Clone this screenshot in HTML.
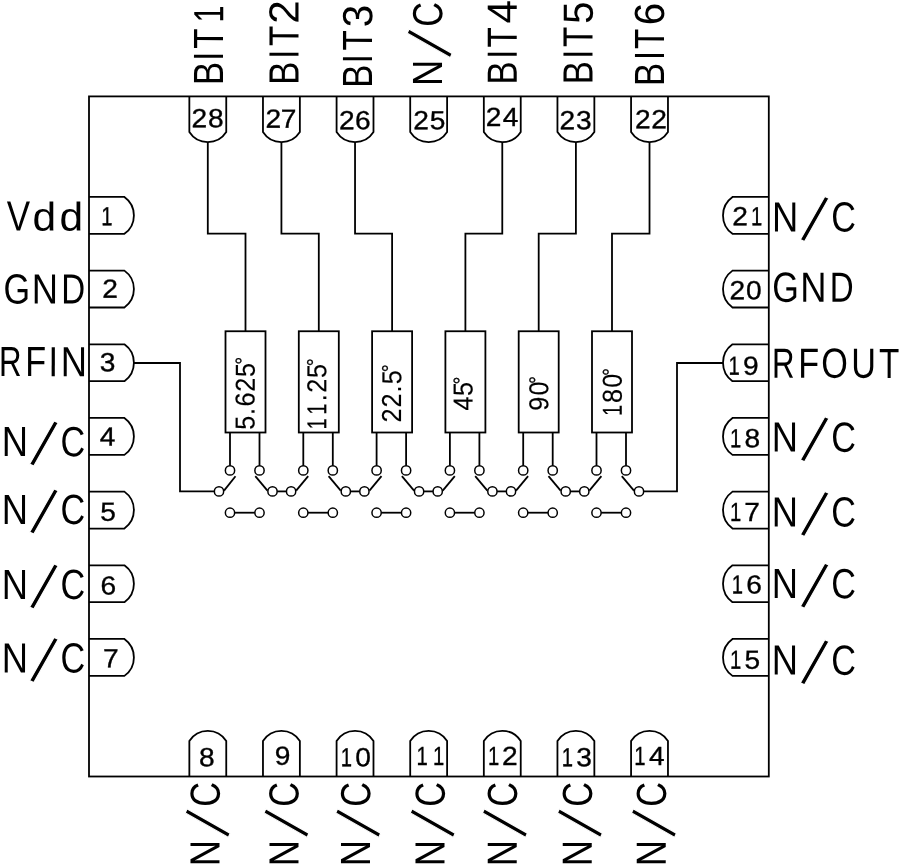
<!DOCTYPE html>
<html lang="en">
<head>
<meta charset="utf-8">
<title>Functional Diagram</title>
<style>
html,body{margin:0;padding:0;background:#fff;}
body{width:900px;height:865px;overflow:hidden;}
svg{display:block;filter:grayscale(1);}
.g path,.g rect,.g circle{fill:none;stroke:#000;stroke-linejoin:miter;stroke-linecap:butt;}
.t text{font-family:"Liberation Sans",Arial,Helvetica,sans-serif;fill:#000;stroke:#fff;}
.t .k{stroke:#000;}
.t .w{stroke:#fff;}
</style>
</head>
<body>
<svg width="900" height="865" viewBox="0 0 900 865">
<rect width="900" height="865" fill="#fff"/>
<g class="t">
<text transform="translate(18.5 230.40) rotate(0.05) scale(0.81 1)" font-size="42.2" stroke-width="0"><tspan x="-14.39" y="0.00" textLength="28.77" lengthAdjust="spacingAndGlyphs">V</tspan><tspan x="17.18" y="0.00" textLength="29.16" lengthAdjust="spacingAndGlyphs" font-size="40.2">d</tspan><tspan x="50.58" y="0.00" textLength="29.16" lengthAdjust="spacingAndGlyphs" font-size="40.2">d</tspan></text>
<text transform="translate(16.2 303.40) rotate(0.05) scale(0.81 1)" font-size="42.2" stroke-width="0"><tspan x="-15.84" y="0.00">G</tspan><tspan x="19.16" y="0.00" textLength="32.40" lengthAdjust="spacingAndGlyphs">N</tspan><tspan x="55.60" y="0.00" textLength="29.50" lengthAdjust="spacingAndGlyphs">D</tspan></text>
<text transform="translate(10.8 376.10) rotate(0.05) scale(0.81 1)" font-size="42.2" stroke-width="0"><tspan x="-14.51" y="0.00" textLength="27.78" lengthAdjust="spacingAndGlyphs">R</tspan><tspan x="17.95" y="0.00">F</tspan><tspan x="46.42" y="0.00">I</tspan><tspan x="61.57" y="0.00" textLength="32.40" lengthAdjust="spacingAndGlyphs">N</tspan></text>
<text transform="translate(14.8 456.10) rotate(0.05) scale(0.81 1)" font-size="42.2" stroke-width="0"><tspan x="-16.21" y="0.00" textLength="32.40" lengthAdjust="spacingAndGlyphs">N</tspan><tspan x="18.52" y="7.50" font-size="69.3" rotate="19.7" stroke-width="1.2">/</tspan><tspan x="56.35" y="0.00">C</tspan></text>
<text transform="translate(14.8 523.90) rotate(0.05) scale(0.81 1)" font-size="42.2" stroke-width="0"><tspan x="-16.21" y="0.00" textLength="32.40" lengthAdjust="spacingAndGlyphs">N</tspan><tspan x="18.52" y="7.50" font-size="69.3" rotate="19.7" stroke-width="1.2">/</tspan><tspan x="56.35" y="0.00">C</tspan></text>
<text transform="translate(14.8 598.90) rotate(0.05) scale(0.81 1)" font-size="42.2" stroke-width="0"><tspan x="-16.21" y="0.00" textLength="32.40" lengthAdjust="spacingAndGlyphs">N</tspan><tspan x="18.52" y="7.50" font-size="69.3" rotate="19.7" stroke-width="1.2">/</tspan><tspan x="56.35" y="0.00">C</tspan></text>
<text transform="translate(14.8 672.40) rotate(0.05) scale(0.81 1)" font-size="42.2" stroke-width="0"><tspan x="-16.21" y="0.00" textLength="32.40" lengthAdjust="spacingAndGlyphs">N</tspan><tspan x="18.52" y="7.50" font-size="69.3" rotate="19.7" stroke-width="1.2">/</tspan><tspan x="56.35" y="0.00">C</tspan></text>
<text transform="translate(785.1 231.40) rotate(0.05) scale(0.81 1)" font-size="42.2" stroke-width="0"><tspan x="-16.15" y="0.00" textLength="32.40" lengthAdjust="spacingAndGlyphs">N</tspan><tspan x="19.01" y="7.70" font-size="69.3" rotate="19.7" stroke-width="1.2">/</tspan><tspan x="56.90" y="0.00">C</tspan></text>
<text transform="translate(785.2 301.80) rotate(0.05) scale(0.81 1)" font-size="42.2" stroke-width="0"><tspan x="-15.90" y="0.00">G</tspan><tspan x="18.73" y="0.00" textLength="32.40" lengthAdjust="spacingAndGlyphs">N</tspan><tspan x="54.98" y="0.00" textLength="29.50" lengthAdjust="spacingAndGlyphs">D</tspan></text>
<text transform="translate(783.9 377.80) rotate(0.05) scale(0.81 1)" font-size="42.2" stroke-width="0"><tspan x="-14.64" y="0.00" textLength="27.78" lengthAdjust="spacingAndGlyphs">R</tspan><tspan x="17.71" y="0.00">F</tspan><tspan x="46.07" y="0.00">O</tspan><tspan x="83.03" y="0.00">U</tspan><tspan x="117.47" y="0.00" textLength="25.07" lengthAdjust="spacingAndGlyphs">T</tspan></text>
<text transform="translate(785.0 451.60) rotate(0.05) scale(0.81 1)" font-size="42.2" stroke-width="0"><tspan x="-16.21" y="0.00" textLength="32.40" lengthAdjust="spacingAndGlyphs">N</tspan><tspan x="19.14" y="7.70" font-size="69.3" rotate="19.7" stroke-width="1.2">/</tspan><tspan x="57.03" y="0.00">C</tspan></text>
<text transform="translate(785.0 526.40) rotate(0.05) scale(0.81 1)" font-size="42.2" stroke-width="0"><tspan x="-16.21" y="0.00" textLength="32.40" lengthAdjust="spacingAndGlyphs">N</tspan><tspan x="19.14" y="7.70" font-size="69.3" rotate="19.7" stroke-width="1.2">/</tspan><tspan x="57.03" y="0.00">C</tspan></text>
<text transform="translate(785.0 598.10) rotate(0.05) scale(0.81 1)" font-size="42.2" stroke-width="0"><tspan x="-16.21" y="0.00" textLength="32.40" lengthAdjust="spacingAndGlyphs">N</tspan><tspan x="19.14" y="7.70" font-size="69.3" rotate="19.7" stroke-width="1.2">/</tspan><tspan x="57.03" y="0.00">C</tspan></text>
<text transform="translate(785.0 674.60) rotate(0.05) scale(0.81 1)" font-size="42.2" stroke-width="0"><tspan x="-16.21" y="0.00" textLength="32.40" lengthAdjust="spacingAndGlyphs">N</tspan><tspan x="19.14" y="7.70" font-size="69.3" rotate="19.7" stroke-width="1.2">/</tspan><tspan x="57.03" y="0.00">C</tspan></text>
<text transform="translate(223.10 73.2) rotate(-89.95) scale(0.81 1)" font-size="42.2" stroke-width="0"><tspan x="-15.04" y="0.00" textLength="28.93" lengthAdjust="spacingAndGlyphs">B</tspan><tspan x="15.00" y="0.00">I</tspan><tspan x="30.07" y="0.00" textLength="25.07" lengthAdjust="spacingAndGlyphs">T</tspan><tspan x="62.60" y="0.00" textLength="21.12" lengthAdjust="spacingAndGlyphs">1</tspan></text>
<text transform="translate(298.40 72.8) rotate(-89.95) scale(0.81 1)" font-size="42.2" stroke-width="0"><tspan x="-15.04" y="0.00" textLength="28.93" lengthAdjust="spacingAndGlyphs">B</tspan><tspan x="17.10" y="0.00">I</tspan><tspan x="33.03" y="0.00" textLength="25.07" lengthAdjust="spacingAndGlyphs">T</tspan><tspan x="60.47" y="0.00" textLength="28.94" lengthAdjust="spacingAndGlyphs">2</tspan></text>
<text transform="translate(372.10 75.8) rotate(-89.95) scale(0.81 1)" font-size="42.2" stroke-width="0"><tspan x="-15.16" y="0.00" textLength="28.93" lengthAdjust="spacingAndGlyphs">B</tspan><tspan x="15.25" y="0.00">I</tspan><tspan x="31.18" y="0.00" textLength="25.07" lengthAdjust="spacingAndGlyphs">T</tspan><tspan x="59.83" y="0.00" textLength="27.66" lengthAdjust="spacingAndGlyphs">3</tspan></text>
<text transform="translate(442.10 72.9) rotate(-89.95) scale(0.81 1)" font-size="42.2" stroke-width="0"><tspan x="-16.21" y="0.00" textLength="32.40" lengthAdjust="spacingAndGlyphs">N</tspan><tspan x="18.89" y="7.70" font-size="69.3" rotate="19.7" stroke-width="1.2">/</tspan><tspan x="56.96" y="0.00">C</tspan></text>
<text transform="translate(516.80 72.7) rotate(-89.95) scale(0.81 1)" font-size="42.2" stroke-width="0"><tspan x="-15.04" y="0.00" textLength="28.93" lengthAdjust="spacingAndGlyphs">B</tspan><tspan x="16.98" y="0.00">I</tspan><tspan x="31.12" y="0.00" textLength="25.07" lengthAdjust="spacingAndGlyphs">T</tspan><tspan x="60.78" y="0.00" textLength="28.89" lengthAdjust="spacingAndGlyphs">4</tspan></text>
<text transform="translate(592.60 72.3) rotate(-89.95) scale(0.81 1)" font-size="42.2" stroke-width="0"><tspan x="-15.16" y="0.00" textLength="28.93" lengthAdjust="spacingAndGlyphs">B</tspan><tspan x="16.48" y="0.00">I</tspan><tspan x="31.18" y="0.00" textLength="25.07" lengthAdjust="spacingAndGlyphs">T</tspan><tspan x="59.48" y="0.00" textLength="27.80" lengthAdjust="spacingAndGlyphs">5</tspan></text>
<text transform="translate(663.90 74.0) rotate(-89.95) scale(0.81 1)" font-size="42.2" stroke-width="0"><tspan x="-15.10" y="0.00" textLength="28.93" lengthAdjust="spacingAndGlyphs">B</tspan><tspan x="16.98" y="0.00">I</tspan><tspan x="30.99" y="0.00" textLength="25.07" lengthAdjust="spacingAndGlyphs">T</tspan><tspan x="60.07" y="0.00" textLength="27.68" lengthAdjust="spacingAndGlyphs">6</tspan></text>
<text transform="translate(219.60 853.1) rotate(-89.95) scale(0.81 1)" font-size="42.2" stroke-width="0"><tspan x="-16.21" y="0.00" textLength="32.40" lengthAdjust="spacingAndGlyphs">N</tspan><tspan x="19.63" y="8.20" font-size="69.3" rotate="19.7" stroke-width="1.2">/</tspan><tspan x="57.27" y="0.00">C</tspan></text>
<text transform="translate(298.40 853.1) rotate(-89.95) scale(0.81 1)" font-size="42.2" stroke-width="0"><tspan x="-16.21" y="0.00" textLength="32.40" lengthAdjust="spacingAndGlyphs">N</tspan><tspan x="19.63" y="8.20" font-size="69.3" rotate="19.7" stroke-width="1.2">/</tspan><tspan x="57.27" y="0.00">C</tspan></text>
<text transform="translate(370.10 853.1) rotate(-89.95) scale(0.81 1)" font-size="42.2" stroke-width="0"><tspan x="-16.21" y="0.00" textLength="32.40" lengthAdjust="spacingAndGlyphs">N</tspan><tspan x="19.63" y="8.20" font-size="69.3" rotate="19.7" stroke-width="1.2">/</tspan><tspan x="57.27" y="0.00">C</tspan></text>
<text transform="translate(444.60 853.1) rotate(-89.95) scale(0.81 1)" font-size="42.2" stroke-width="0"><tspan x="-16.21" y="0.00" textLength="32.40" lengthAdjust="spacingAndGlyphs">N</tspan><tspan x="19.63" y="8.20" font-size="69.3" rotate="19.7" stroke-width="1.2">/</tspan><tspan x="57.27" y="0.00">C</tspan></text>
<text transform="translate(516.85 853.1) rotate(-89.95) scale(0.81 1)" font-size="42.2" stroke-width="0"><tspan x="-16.21" y="0.00" textLength="32.40" lengthAdjust="spacingAndGlyphs">N</tspan><tspan x="19.63" y="8.20" font-size="69.3" rotate="19.7" stroke-width="1.2">/</tspan><tspan x="57.27" y="0.00">C</tspan></text>
<text transform="translate(591.85 853.1) rotate(-89.95) scale(0.81 1)" font-size="42.2" stroke-width="0"><tspan x="-16.21" y="0.00" textLength="32.40" lengthAdjust="spacingAndGlyphs">N</tspan><tspan x="19.63" y="8.20" font-size="69.3" rotate="19.7" stroke-width="1.2">/</tspan><tspan x="57.27" y="0.00">C</tspan></text>
<text transform="translate(665.85 853.1) rotate(-89.95) scale(0.81 1)" font-size="42.2" stroke-width="0"><tspan x="-16.21" y="0.00" textLength="32.40" lengthAdjust="spacingAndGlyphs">N</tspan><tspan x="19.63" y="8.20" font-size="69.3" rotate="19.7" stroke-width="1.2">/</tspan><tspan x="57.27" y="0.00">C</tspan></text>
<text transform="translate(107.3 225.35) rotate(0.05) scale(1.07 1)" font-size="26.3" class="k" stroke-width="0.35"><tspan x="-5.60" y="0.00" textLength="10.53" lengthAdjust="spacingAndGlyphs">1</tspan></text>
<text transform="translate(110.2 297.65) rotate(0.05) scale(1.07 1)" x="-7.36" y="0" font-size="26.3" class="k" stroke-width="0.35">2</text>
<text transform="translate(107.5 371.15) rotate(0.05) scale(1.07 1)" x="-7.24" y="0" font-size="26.3" class="k" stroke-width="0.35">3</text>
<text transform="translate(107.5 445.45) rotate(0.05) scale(1.07 1)" x="-7.23" y="0" font-size="26.3" class="k" stroke-width="0.35">4</text>
<text transform="translate(108.0 520.65) rotate(0.05) scale(1.07 1)" x="-7.29" y="0" font-size="26.3" class="k" stroke-width="0.35">5</text>
<text transform="translate(108.5 594.45) rotate(0.05) scale(1.07 1)" x="-7.40" y="0" font-size="26.3" class="k" stroke-width="0.35">6</text>
<text transform="translate(110.8 667.15) rotate(0.05) scale(1.07 1)" x="-7.28" y="0" font-size="26.3" class="k" stroke-width="0.35">7</text>
<text transform="translate(199.2 127.35) rotate(0.05) scale(1.07 1)" x="-7.27 8.25" y="0" font-size="26.3" class="k" stroke-width="0.35">28</text>
<text transform="translate(273.2 127.65) rotate(0.05) scale(1.07 1)" x="-7.27 7.11" y="0" font-size="26.3" class="k" stroke-width="0.35">27</text>
<text transform="translate(346.9 129.35) rotate(0.05) scale(1.07 1)" x="-7.36 7.69" y="0" font-size="26.3" class="k" stroke-width="0.35">26</text>
<text transform="translate(421.1 129.35) rotate(0.05) scale(1.07 1)" x="-7.36 8.09" y="0" font-size="26.3" class="k" stroke-width="0.35">25</text>
<text transform="translate(493.6 125.95) rotate(0.05) scale(1.07 1)" x="-7.36 8.56" y="0" font-size="26.3" class="k" stroke-width="0.35">24</text>
<text transform="translate(567.4 129.35) rotate(0.05) scale(1.07 1)" x="-7.36 7.95" y="0" font-size="26.3" class="k" stroke-width="0.35">23</text>
<text transform="translate(642.9 128.15) rotate(0.05) scale(1.07 1)" x="-7.36 7.87" y="0" font-size="26.3" class="k" stroke-width="0.35">22</text>
<text transform="translate(206.8 766.15) rotate(0.05) scale(1.07 1)" x="-7.27" y="0" font-size="26.3" class="k" stroke-width="0.35">8</text>
<text transform="translate(282.4 764.85) rotate(0.05) scale(1.07 1)" x="-7.26" y="0" font-size="26.3" class="k" stroke-width="0.35">9</text>
<text transform="translate(346.8 766.35) rotate(0.05) scale(1.07 1)" font-size="26.3" class="k" stroke-width="0.35"><tspan x="-5.60" y="0.00" textLength="10.53" lengthAdjust="spacingAndGlyphs">1</tspan><tspan x="7.92" y="0.00">0</tspan></text>
<text transform="translate(422.6 765.05) rotate(0.05) scale(1.07 1)" font-size="26.3" class="k" stroke-width="0.35"><tspan x="-5.60" y="0.00" textLength="10.53" lengthAdjust="spacingAndGlyphs">1</tspan><tspan x="9.82" y="0.00" textLength="10.53" lengthAdjust="spacingAndGlyphs">1</tspan></text>
<text transform="translate(493.9 765.05) rotate(0.05) scale(1.07 1)" font-size="26.3" class="k" stroke-width="0.35"><tspan x="-5.60" y="0.00" textLength="10.53" lengthAdjust="spacingAndGlyphs">1</tspan><tspan x="7.55" y="0.00">2</tspan></text>
<text transform="translate(567.8 766.35) rotate(0.05) scale(1.07 1)" font-size="26.3" class="k" stroke-width="0.35"><tspan x="-5.60" y="0.00" textLength="10.53" lengthAdjust="spacingAndGlyphs">1</tspan><tspan x="7.81" y="0.00">3</tspan></text>
<text transform="translate(640.3 765.05) rotate(0.05) scale(1.07 1)" font-size="26.3" class="k" stroke-width="0.35"><tspan x="-5.60" y="0.00" textLength="10.53" lengthAdjust="spacingAndGlyphs">1</tspan><tspan x="8.10" y="0.00">4</tspan></text>
<text transform="translate(740.0 225.25) rotate(0.05) scale(1.07 1)" font-size="26.3" class="k" stroke-width="0.35"><tspan x="-7.31" y="0.00">2</tspan><tspan x="10.29" y="0.00" textLength="10.53" lengthAdjust="spacingAndGlyphs">1</tspan></text>
<text transform="translate(737.2 299.15) rotate(0.05) scale(1.07 1)" x="-7.31 8.34" y="0" font-size="26.3" class="k" stroke-width="0.35">20</text>
<text transform="translate(734.6 374.65) rotate(0.05) scale(1.07 1)" font-size="26.3" class="k" stroke-width="0.35"><tspan x="-5.60" y="0.00" textLength="10.53" lengthAdjust="spacingAndGlyphs">1</tspan><tspan x="7.83" y="0.00">9</tspan></text>
<text transform="translate(736.1 447.15) rotate(0.05) scale(1.07 1)" font-size="26.3" class="k" stroke-width="0.35"><tspan x="-5.60" y="0.00" textLength="10.53" lengthAdjust="spacingAndGlyphs">1</tspan><tspan x="7.92" y="0.00">8</tspan></text>
<text transform="translate(736.1 521.05) rotate(0.05) scale(1.07 1)" font-size="26.3" class="k" stroke-width="0.35"><tspan x="-5.60" y="0.00" textLength="10.53" lengthAdjust="spacingAndGlyphs">1</tspan><tspan x="7.53" y="0.00">7</tspan></text>
<text transform="translate(737.7 593.55) rotate(0.05) scale(1.07 1)" font-size="26.3" class="k" stroke-width="0.35"><tspan x="-5.60" y="0.00" textLength="10.53" lengthAdjust="spacingAndGlyphs">1</tspan><tspan x="8.02" y="0.00">6</tspan></text>
<text transform="translate(736.1 668.85) rotate(0.05) scale(1.07 1)" font-size="26.3" class="k" stroke-width="0.35"><tspan x="-5.60" y="0.00" textLength="10.53" lengthAdjust="spacingAndGlyphs">1</tspan><tspan x="7.95" y="0.00">5</tspan></text>
<text transform="translate(254.60 422.7) rotate(-89.95) scale(0.92 1)" font-size="27.4" class="k" stroke-width="0.15"><tspan x="-7.59" y="0.00">5</tspan><tspan x="8.48" y="0.00">.</tspan><tspan x="17.72" y="0.00">6</tspan><tspan x="33.58" y="0.00">2</tspan><tspan x="49.69" y="0.00">5</tspan><tspan x="63.10" y="-4.10" font-size="21.5" class="k" stroke-width="0.3">°</tspan></text>
<text transform="translate(326.15 423.5) rotate(-89.95) scale(0.92 1)" font-size="27.4" class="k" stroke-width="0.15"><tspan x="-6.48" y="0.00" textLength="12.19" lengthAdjust="spacingAndGlyphs">1</tspan><tspan x="9.61" y="0.00" textLength="12.19" lengthAdjust="spacingAndGlyphs">1</tspan><tspan x="24.24" y="0.00">.</tspan><tspan x="33.30" y="0.00">2</tspan><tspan x="49.47" y="0.00">5</tspan><tspan x="62.12" y="-4.10" font-size="21.5" class="k" stroke-width="0.3">°</tspan></text>
<text transform="translate(401.10 415.4) rotate(-89.95) scale(0.92 1)" font-size="27.4" class="k" stroke-width="0.15"><tspan x="-7.62" y="0.00">2</tspan><tspan x="8.69" y="0.00">2</tspan><tspan x="24.89" y="0.00">.</tspan><tspan x="33.82" y="0.00">5</tspan><tspan x="47.01" y="-4.10" font-size="21.5" class="k" stroke-width="0.3">°</tspan></text>
<text transform="translate(472.50 403.5) rotate(-89.95) scale(0.92 1)" font-size="27.4" class="k" stroke-width="0.15"><tspan x="-7.53" y="0.00">4</tspan><tspan x="8.28" y="0.00">5</tspan><tspan x="20.71" y="-4.10" font-size="21.5" class="k" stroke-width="0.3">°</tspan></text>
<text transform="translate(548.30 403.7) rotate(-89.95) scale(0.92 1)" font-size="27.4" class="k" stroke-width="0.15"><tspan x="-7.61" y="0.00">9</tspan><tspan x="9.01" y="0.00">0</tspan><tspan x="21.47" y="-4.10" font-size="21.5" class="k" stroke-width="0.3">°</tspan></text>
<text transform="translate(621.70 410.0) rotate(-89.95) scale(0.92 1)" font-size="27.4" class="k" stroke-width="0.15"><tspan x="-6.48" y="0.00" textLength="12.19" lengthAdjust="spacingAndGlyphs">1</tspan><tspan x="7.71" y="0.00">8</tspan><tspan x="24.23" y="0.00">0</tspan><tspan x="37.01" y="-4.10" font-size="21.5" class="k" stroke-width="0.3">°</tspan></text>
</g>
<g class="g">
<rect x="89.0" y="96.4" width="679.8" height="680.1" stroke-width="1.8"/>
<path d="M89.0 196.95 H124.4 A22.67 22.67 0 0 1 124.4 233.85 H89.0" stroke-width="1.8"/>
<path d="M768.8 196.95 H732.5 A22.67 22.67 0 0 0 732.5 233.85 H768.8" stroke-width="1.8"/>
<path d="M189.35 96.4 V132.0 A21.9 21.9 0 0 0 226.25 132.0 V96.4" stroke-width="1.8"/>
<path d="M189.35 776.5 V741.1 A21.79 21.79 0 0 1 226.25 741.1 V776.5" stroke-width="1.8"/>
<path d="M89.0 270.62 H124.4 A22.67 22.67 0 0 1 124.4 307.52 H89.0" stroke-width="1.8"/>
<path d="M768.8 270.62 H732.5 A22.67 22.67 0 0 0 732.5 307.52 H768.8" stroke-width="1.8"/>
<path d="M262.97 96.4 V132.0 A21.9 21.9 0 0 0 299.87 132.0 V96.4" stroke-width="1.8"/>
<path d="M262.97 776.5 V741.1 A21.79 21.79 0 0 1 299.87 741.1 V776.5" stroke-width="1.8"/>
<path d="M89.0 344.29 H124.4 A22.67 22.67 0 0 1 124.4 381.19 H89.0" stroke-width="1.8"/>
<path d="M768.8 344.29 H732.5 A22.67 22.67 0 0 0 732.5 381.19 H768.8" stroke-width="1.8"/>
<path d="M336.59 96.4 V132.0 A21.9 21.9 0 0 0 373.49 132.0 V96.4" stroke-width="1.8"/>
<path d="M336.59 776.5 V741.1 A21.79 21.79 0 0 1 373.49 741.1 V776.5" stroke-width="1.8"/>
<path d="M89.0 417.96 H124.4 A22.67 22.67 0 0 1 124.4 454.86 H89.0" stroke-width="1.8"/>
<path d="M768.8 417.96 H732.5 A22.67 22.67 0 0 0 732.5 454.86 H768.8" stroke-width="1.8"/>
<path d="M410.21 96.4 V132.0 A21.9 21.9 0 0 0 447.11 132.0 V96.4" stroke-width="1.8"/>
<path d="M410.21 776.5 V741.1 A21.79 21.79 0 0 1 447.11 741.1 V776.5" stroke-width="1.8"/>
<path d="M89.0 491.63 H124.4 A22.67 22.67 0 0 1 124.4 528.53 H89.0" stroke-width="1.8"/>
<path d="M768.8 491.63 H732.5 A22.67 22.67 0 0 0 732.5 528.53 H768.8" stroke-width="1.8"/>
<path d="M483.83 96.4 V132.0 A21.9 21.9 0 0 0 520.73 132.0 V96.4" stroke-width="1.8"/>
<path d="M483.83 776.5 V741.1 A21.79 21.79 0 0 1 520.73 741.1 V776.5" stroke-width="1.8"/>
<path d="M89.0 565.30 H124.4 A22.67 22.67 0 0 1 124.4 602.20 H89.0" stroke-width="1.8"/>
<path d="M768.8 565.30 H732.5 A22.67 22.67 0 0 0 732.5 602.20 H768.8" stroke-width="1.8"/>
<path d="M557.45 96.4 V132.0 A21.9 21.9 0 0 0 594.35 132.0 V96.4" stroke-width="1.8"/>
<path d="M557.45 776.5 V741.1 A21.79 21.79 0 0 1 594.35 741.1 V776.5" stroke-width="1.8"/>
<path d="M89.0 638.97 H124.4 A22.67 22.67 0 0 1 124.4 675.87 H89.0" stroke-width="1.8"/>
<path d="M768.8 638.97 H732.5 A22.67 22.67 0 0 0 732.5 675.87 H768.8" stroke-width="1.8"/>
<path d="M631.07 96.4 V132.0 A21.9 21.9 0 0 0 667.97 132.0 V96.4" stroke-width="1.8"/>
<path d="M631.07 776.5 V741.1 A21.79 21.79 0 0 1 667.97 741.1 V776.5" stroke-width="1.8"/>
<rect x="225.50" y="331.25" width="40.0" height="101.25" stroke-width="1.8"/>
<path d="M207.80 142.10 L207.80 233.70 L245.50 233.70 L245.50 331.25" stroke-width="1.8"/>
<path d="M230.00 432.50 L230.00 465.75" stroke-width="1.8"/>
<path d="M259.50 432.50 L259.50 465.75" stroke-width="1.8"/>
<circle cx="230.00" cy="470.40" r="4.65" stroke-width="1.5"/>
<circle cx="259.50" cy="470.40" r="4.65" stroke-width="1.5"/>
<circle cx="230.00" cy="512.70" r="4.65" stroke-width="1.5"/>
<circle cx="259.50" cy="512.70" r="4.65" stroke-width="1.5"/>
<path d="M234.65 512.70 L254.85 512.70" stroke-width="1.8"/>
<circle cx="219.00" cy="491.40" r="4.65" stroke-width="1.5"/>
<circle cx="272.50" cy="491.40" r="4.65" stroke-width="1.5"/>
<path d="M224.05 490.60 L235.50 476.20" stroke-width="1.8"/>
<path d="M267.45 490.60 L255.30 476.20" stroke-width="1.8"/>
<rect x="298.80" y="331.25" width="40.0" height="101.25" stroke-width="1.8"/>
<path d="M281.42 142.10 L281.42 233.70 L318.80 233.70 L318.80 331.25" stroke-width="1.8"/>
<path d="M303.30 432.50 L303.30 465.75" stroke-width="1.8"/>
<path d="M332.80 432.50 L332.80 465.75" stroke-width="1.8"/>
<circle cx="303.30" cy="470.40" r="4.65" stroke-width="1.5"/>
<circle cx="332.80" cy="470.40" r="4.65" stroke-width="1.5"/>
<circle cx="303.30" cy="512.70" r="4.65" stroke-width="1.5"/>
<circle cx="332.80" cy="512.70" r="4.65" stroke-width="1.5"/>
<path d="M307.95 512.70 L328.15 512.70" stroke-width="1.8"/>
<circle cx="291.10" cy="491.40" r="4.65" stroke-width="1.5"/>
<circle cx="345.80" cy="491.40" r="4.65" stroke-width="1.5"/>
<path d="M277.15 491.40 L286.45 491.40" stroke-width="1.8"/>
<path d="M296.15 490.60 L308.20 476.20" stroke-width="1.8"/>
<path d="M340.75 490.60 L328.60 476.20" stroke-width="1.8"/>
<rect x="372.10" y="331.25" width="40.0" height="101.25" stroke-width="1.8"/>
<path d="M355.04 142.10 L355.04 233.70 L392.10 233.70 L392.10 331.25" stroke-width="1.8"/>
<path d="M376.60 432.50 L376.60 465.75" stroke-width="1.8"/>
<path d="M406.10 432.50 L406.10 465.75" stroke-width="1.8"/>
<circle cx="376.60" cy="470.40" r="4.65" stroke-width="1.5"/>
<circle cx="406.10" cy="470.40" r="4.65" stroke-width="1.5"/>
<circle cx="376.60" cy="512.70" r="4.65" stroke-width="1.5"/>
<circle cx="406.10" cy="512.70" r="4.65" stroke-width="1.5"/>
<path d="M381.25 512.70 L401.45 512.70" stroke-width="1.8"/>
<circle cx="364.40" cy="491.40" r="4.65" stroke-width="1.5"/>
<circle cx="419.10" cy="491.40" r="4.65" stroke-width="1.5"/>
<path d="M350.45 491.40 L359.75 491.40" stroke-width="1.8"/>
<path d="M369.45 490.60 L381.50 476.20" stroke-width="1.8"/>
<path d="M414.05 490.60 L401.90 476.20" stroke-width="1.8"/>
<rect x="445.40" y="331.25" width="40.0" height="101.25" stroke-width="1.8"/>
<path d="M502.28 142.10 L502.28 233.70 L465.40 233.70 L465.40 331.25" stroke-width="1.8"/>
<path d="M449.90 432.50 L449.90 465.75" stroke-width="1.8"/>
<path d="M479.40 432.50 L479.40 465.75" stroke-width="1.8"/>
<circle cx="449.90" cy="470.40" r="4.65" stroke-width="1.5"/>
<circle cx="479.40" cy="470.40" r="4.65" stroke-width="1.5"/>
<circle cx="449.90" cy="512.70" r="4.65" stroke-width="1.5"/>
<circle cx="479.40" cy="512.70" r="4.65" stroke-width="1.5"/>
<path d="M454.55 512.70 L474.75 512.70" stroke-width="1.8"/>
<circle cx="437.70" cy="491.40" r="4.65" stroke-width="1.5"/>
<circle cx="492.40" cy="491.40" r="4.65" stroke-width="1.5"/>
<path d="M423.75 491.40 L433.05 491.40" stroke-width="1.8"/>
<path d="M442.75 490.60 L454.80 476.20" stroke-width="1.8"/>
<path d="M487.35 490.60 L475.20 476.20" stroke-width="1.8"/>
<rect x="518.70" y="331.25" width="40.0" height="101.25" stroke-width="1.8"/>
<path d="M575.90 142.10 L575.90 233.70 L538.70 233.70 L538.70 331.25" stroke-width="1.8"/>
<path d="M523.20 432.50 L523.20 465.75" stroke-width="1.8"/>
<path d="M552.70 432.50 L552.70 465.75" stroke-width="1.8"/>
<circle cx="523.20" cy="470.40" r="4.65" stroke-width="1.5"/>
<circle cx="552.70" cy="470.40" r="4.65" stroke-width="1.5"/>
<circle cx="523.20" cy="512.70" r="4.65" stroke-width="1.5"/>
<circle cx="552.70" cy="512.70" r="4.65" stroke-width="1.5"/>
<path d="M527.85 512.70 L548.05 512.70" stroke-width="1.8"/>
<circle cx="511.00" cy="491.40" r="4.65" stroke-width="1.5"/>
<circle cx="565.70" cy="491.40" r="4.65" stroke-width="1.5"/>
<path d="M497.05 491.40 L506.35 491.40" stroke-width="1.8"/>
<path d="M516.05 490.60 L528.10 476.20" stroke-width="1.8"/>
<path d="M560.65 490.60 L548.50 476.20" stroke-width="1.8"/>
<rect x="592.00" y="331.25" width="40.0" height="101.25" stroke-width="1.8"/>
<path d="M649.52 142.10 L649.52 233.70 L612.00 233.70 L612.00 331.25" stroke-width="1.8"/>
<path d="M596.50 432.50 L596.50 465.75" stroke-width="1.8"/>
<path d="M626.00 432.50 L626.00 465.75" stroke-width="1.8"/>
<circle cx="596.50" cy="470.40" r="4.65" stroke-width="1.5"/>
<circle cx="626.00" cy="470.40" r="4.65" stroke-width="1.5"/>
<circle cx="596.50" cy="512.70" r="4.65" stroke-width="1.5"/>
<circle cx="626.00" cy="512.70" r="4.65" stroke-width="1.5"/>
<path d="M601.15 512.70 L621.35 512.70" stroke-width="1.8"/>
<circle cx="584.30" cy="491.40" r="4.65" stroke-width="1.5"/>
<circle cx="639.00" cy="491.40" r="4.65" stroke-width="1.5"/>
<path d="M570.35 491.40 L579.65 491.40" stroke-width="1.8"/>
<path d="M589.35 490.60 L601.40 476.20" stroke-width="1.8"/>
<path d="M633.95 490.60 L621.80 476.20" stroke-width="1.8"/>
<path d="M133.90 363.00 L180.00 363.00 L180.00 491.40 L214.35 491.40" stroke-width="1.8"/>
<path d="M643.65 491.40 L677.00 491.40 L677.00 363.00 L723.00 363.00" stroke-width="1.8"/>
</g>
</svg>
</body>
</html>
